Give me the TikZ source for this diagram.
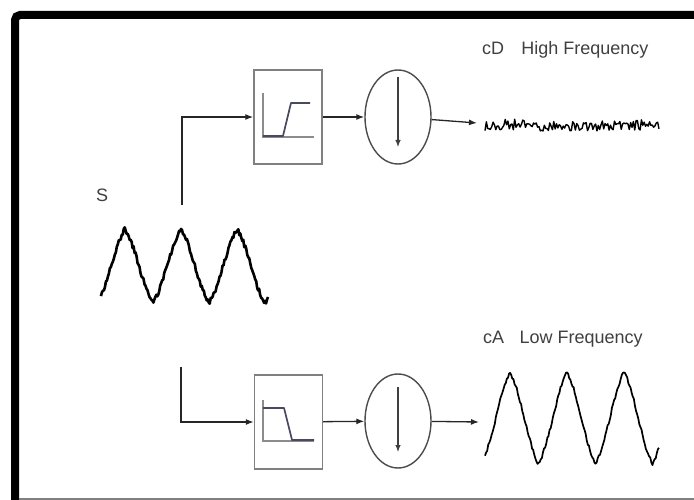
\documentclass[tikz,border=0pt]{standalone}
\usepackage{fontspec}
\setmainfont{Liberation Sans}
\usetikzlibrary{arrows.meta,shapes.geometric}
\definecolor{respcol}{RGB}{72,72,96}
\begin{document}
\begin{tikzpicture}[x=1pt,y=-1pt,
  arr/.style={-{Latex[length=8pt,width=6pt]}, line width=1.3pt, draw=black!85},
  inarr/.style={-{Latex[length=7pt,width=5.5pt]}, line width=1.1pt, draw=black!75},
  fbox/.style={draw=black!50, line width=1.4pt, minimum width=68pt, minimum height=94pt, inner sep=0pt},
  dsamp/.style={ellipse, draw=black!70, line width=1.4pt, minimum width=66pt, minimum height=94pt, inner sep=0pt},
  lbl/.style={text=black!75, font=\fontsize{18}{20}\selectfont, inner sep=0pt},
  axisline/.style={draw=black!45, line width=1.2pt},
  resp/.style={draw=respcol, line width=1.7pt, line join=round},
  sig/.style={draw=black, line join=round}]
\useasboundingbox (0,0) rectangle (694,500);
\fill[white] (0,0) rectangle (694,500);
% frame
\draw[line width=8pt, rounded corners=5pt] (15,520) -- (15,15) -- (710,15);
\draw[black!50, line width=1.5pt] (19,499) -- (700,499);

% labels
\node[lbl, anchor=base west] (cD) at (482,55) {cD\hspace{0.95em}High Frequency};
\node[lbl, anchor=base west] (cA) at (483,343) {cA\hspace{0.85em}Low Frequency};
\node[lbl, anchor=base west] (S) at (96,202) {S};

% blocks
\node[fbox] (hp) at (288,117) {};
\node[fbox] (lp) at (288.5,422) {};
\node[dsamp] (c1) at (398,117) {};
\node[dsamp] (c2) at (398,421) {};

% filter icons
\draw[axisline] (263,93) -- (263,137) -- (314,137);
\draw[resp] (263,136) -- (283,136) -- (291,103) -- (310,103);
\draw[axisline] (263,400) -- (263,441) -- (314,441);
\draw[resp] (263,408) -- (284,408) -- (292,440) -- (314,440);

% down-sampling arrows
\draw[inarr] (c1) ++(0,-40) -- ++(0,70);
\draw[inarr] (c2) ++(0,-34) -- ++(0,65);

% connectors
\coordinate (sTop) at (182,205);
\coordinate (sBot) at (181,367);
\coordinate (hf) at (477,123);
\coordinate (lf) at (479,422);
\draw[arr] (sTop) |- (hp.west);
\draw[arr] (sBot) |- (lp.west);
\draw[arr] (hp) -- (c1);
\draw[arr] (lp) -- (c2);
\draw[arr] (c1) -- (hf);
\draw[arr] (c2) -- (lf);

% signals
\pgfmathsetseed{7}
\draw[sig, line width=2.6pt] plot[domain=101:268, samples=170]
  (\x,{266-37*(0.45*cos(6.4286*(\x-125))+0.55*(4*abs(mod((\x-125)/56+10,1)-0.5)-1))+2.4*rand});
\draw[sig, line width=1.7pt] plot[domain=485:659, samples=160]
  (\x,{418-46*(0.45*cos(6.3158*(\x-510))+0.55*(4*abs(mod((\x-510)/57+10,1)-0.5)-1))+2*rand});
\draw[sig, line width=1.4pt] plot[domain=485:659, samples=130] (\x,{126+5*rand+9*rand*rand*rand});
\end{tikzpicture}
\end{document}
